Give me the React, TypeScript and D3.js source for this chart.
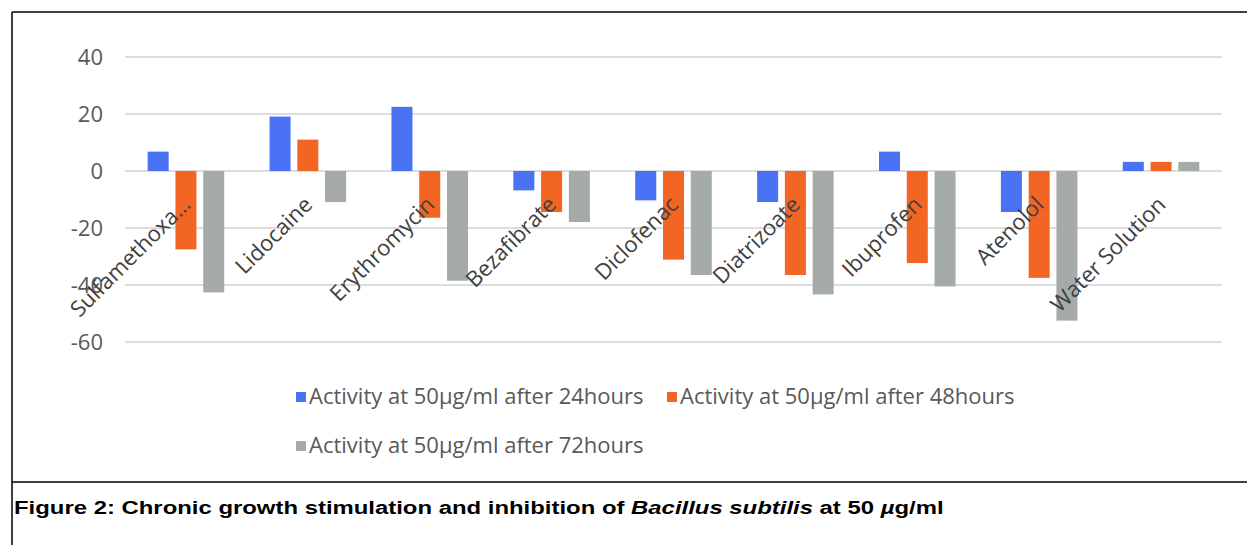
import React from "react";
import * as d3 from "d3";

const categories = [
  "Sulfamethoxa…",
  "Lidocaine",
  "Erythromycin",
  "Bezafibrate",
  "Diclofenac",
  "Diatrizoate",
  "Ibuprofen",
  "Atenolol",
  "Water Solution",
];
const seriesNames = [
  "Activity at 50µg/ml after 24hours",
  "Activity at 50µg/ml after 48hours",
  "Activity at 50µg/ml after 72hours",
];
const after24 = [6.8, 19.1, 22.5, -6.8, -10.3, -10.9, 6.8, -14.4, 3.2];
const after48 = [-27.5, 11, -16.4, -14.4, -31.1, -36.5, -32.3, -37.5, 3.2];
const after72 = [-42.6, -10.9, -38.5, -17.9, -36.5, -43.3, -40.5, -52.5, 3.2];
const yTicks = [40, 20, 0, -20, -40, -60];
const colors = ["#4a72f5", "#f26522", "#a5aba9"];

const W = 1247;
const H = 545;

export default function App() {
  const series = [after24, after48, after72];
  const y = d3.scaleLinear().domain([-60, 40]).range([342, 57]);
  const x = d3
    .scaleBand<string>()
    .domain(categories)
    .range([125, 1222])
    .paddingInner(0.372)
    .paddingOuter(0.186);
  const xs = d3
    .scaleBand<number>()
    .domain([0, 1, 2])
    .range([0, x.bandwidth()])
    .paddingInner(0.243)
    .paddingOuter(0);

  const font = "'Open Sans', sans-serif";
  const legend = [
    { i: 0, tx: 309, ty: 404 },
    { i: 1, tx: 680, ty: 404 },
    { i: 2, tx: 309, ty: 453 },
  ];

  return (
    <svg
      width={W}
      height={H}
      style={{ position: "absolute", left: 0, top: 0, background: "#fff" }}
    >
      <rect x={0} y={0} width={W} height={H} fill="#fff" />
      {/* gridlines */}
      {yTicks.map((t) => (
        <line
          key={t}
          x1={125}
          x2={1222}
          y1={y(t)}
          y2={y(t)}
          stroke="#dcdedd"
          strokeWidth={2}
        />
      ))}
      {/* y tick labels */}
      {yTicks.map((t) => (
        <text
          key={"l" + t}
          x={103}
          y={y(t)}
          dy="0.36em"
          textAnchor="end"
          fontFamily={font}
          fontSize={22}
          fill="#595959"
        >
          {t}
        </text>
      ))}
      {/* bars */}
      {series.map((vals, si) =>
        vals.map((v, ci) => {
          const bx = (x(categories[ci]) as number) + (xs(si) as number);
          const y0 = y(0);
          const yv = y(v);
          return (
            <rect
              key={si + "-" + ci}
              x={bx}
              y={Math.min(y0, yv)}
              width={xs.bandwidth()}
              height={Math.abs(yv - y0)}
              fill={colors[si]}
            />
          );
        })
      )}
      {/* category labels */}
      {categories.map((c) => {
        const cx = (x(c) as number) + x.bandwidth() / 2;
        return (
          <text
            key={"c" + c}
            transform={`translate(${cx + 6},${y(0) + 35}) rotate(-45)`}
            textAnchor="end"
            fontFamily={font}
            fontSize={22}
            fill="#404040"
          >
            {c}
          </text>
        );
      })}
      {/* legend */}
      {legend.map((l) => (
        <g key={"lg" + l.i}>
          <rect
            x={l.tx - 13}
            y={l.ty - 12}
            width={10}
            height={10}
            fill={colors[l.i]}
          />
          <text
            x={l.tx}
            y={l.ty}
            fontFamily={font}
            fontSize={22}
            fill="#595959"
          >
            {seriesNames[l.i]}
          </text>
        </g>
      ))}
      {/* frame */}
      <line x1={12} x2={W} y1={12} y2={12} stroke="#000" strokeWidth={1.5} />
      <line x1={12} x2={12} y1={12} y2={H} stroke="#000" strokeWidth={1.5} />
      <line x1={12} x2={W} y1={482} y2={482} stroke="#000" strokeWidth={1.5} />
      {/* caption */}
      <text
        transform="translate(14,514) scale(1.258,1)"
        fontFamily="'Liberation Sans', Arial, sans-serif"
        fontWeight="bold"
        fontSize={19}
        fill="#000"
      >
        Figure 2: Chronic growth stimulation and inhibition of{" "}
        <tspan fontStyle="italic">Bacillus subtilis</tspan> at 50{" "}
        <tspan fontStyle="italic">µ</tspan>g/ml
      </text>
    </svg>
  );
}
